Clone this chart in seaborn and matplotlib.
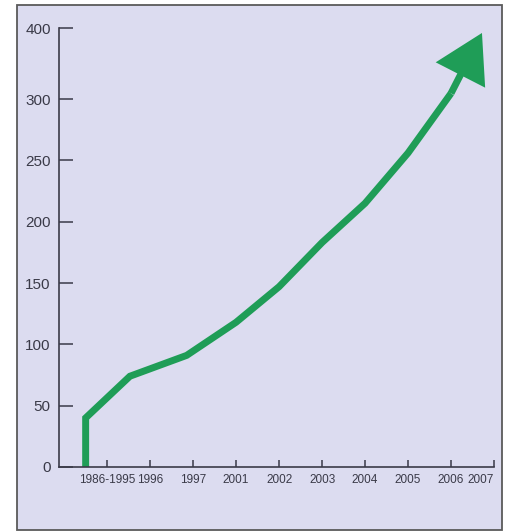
import numpy as np
import seaborn as sns
import matplotlib.pyplot as plt
from matplotlib.patches import Rectangle

# categories on the x axis
year_labels = ["1986-1995", "1996", "1997", "2001", "2002",
               "2003", "2004", "2005", "2006", "2007"]

# points of the green line (x as category position, y as value)
line_x = [-0.5, -0.5, 0.53, 1.85, 3.0, 4.0, 5.0, 6.0, 7.0, 8.0]
line_y = [0, 40, 74, 91, 118, 147, 183, 215, 256, 308]

# arrow tip
tip_x = 8.72
tip_y = 393

y_ticks = [0, 50, 100, 150, 200, 250, 300, 400]

green = "#1f9d57"
bg = "#dcdcf0"
ink = "#3a3a48"

# the printed axis squeezes 300-400 into a shorter span
K = 0.579


def forward(v):
    v = np.asarray(v, dtype=float)
    return np.where(v <= 300, v, 300 + (v - 300) * K)


def inverse(p):
    p = np.asarray(p, dtype=float)
    return np.where(p <= 300, p, 300 + (p - 300) / K)


sns.set_style("white")
plt.rcParams["font.family"] = ["Liberation Sans", "DejaVu Sans"]

fig = plt.figure(figsize=(5.1, 5.32), dpi=100, facecolor="white")
W, H = 510, 532
frame = Rectangle((17 / W, 1 - 530 / H), (502 - 17) / W, (530 - 5) / H,
                  transform=fig.transFigure, facecolor=bg,
                  edgecolor="#5a5a5a", linewidth=1.3, zorder=-1)
fig.patches.append(frame)

ax = fig.add_axes([59 / W, 1 - 467 / H, (494 - 59) / W, (467 - 28) / H])
ax.set_facecolor("none")

sns.lineplot(x=line_x, y=line_y, sort=False, estimator=None, ax=ax,
             color=green, linewidth=5, solid_joinstyle="miter")
ax.lines[0].set_solid_capstyle("butt")

ax.annotate("", xy=(tip_x, tip_y), xytext=(line_x[-1], line_y[-1]),
            arrowprops=dict(width=5, headwidth=40, headlength=34,
                            color=green, lw=0, shrink=0))

ax.set_yscale("function", functions=(forward, inverse))
ax.set_ylim(0, 400)
ax.set_xlim(-1.12, 9)

ax.set_yticks(y_ticks)
ax.set_yticklabels([str(t) for t in y_ticks], fontsize=11, color=ink)
ax.set_xticks(range(len(year_labels)))
ax.set_xticklabels(year_labels, fontsize=8.5, color=ink)

# keep the last label inside the frame
ax.xaxis.get_major_ticks()[-1].label1.set_horizontalalignment("right")

ax.tick_params(axis="y", left=True, direction="in", length=10, width=1.1,
               color=ink, pad=6)
ax.tick_params(axis="x", bottom=True, direction="in", length=5, width=1.1,
               color=ink, pad=5)

sns.despine(ax=ax)
for side in ["left", "bottom"]:
    ax.spines[side].set_color(ink)
    ax.spines[side].set_linewidth(1.2)

ax.set_xlabel("")
ax.set_ylabel("")
ax.grid(False)

fig.savefig("out.png", dpi=100, facecolor="white")
